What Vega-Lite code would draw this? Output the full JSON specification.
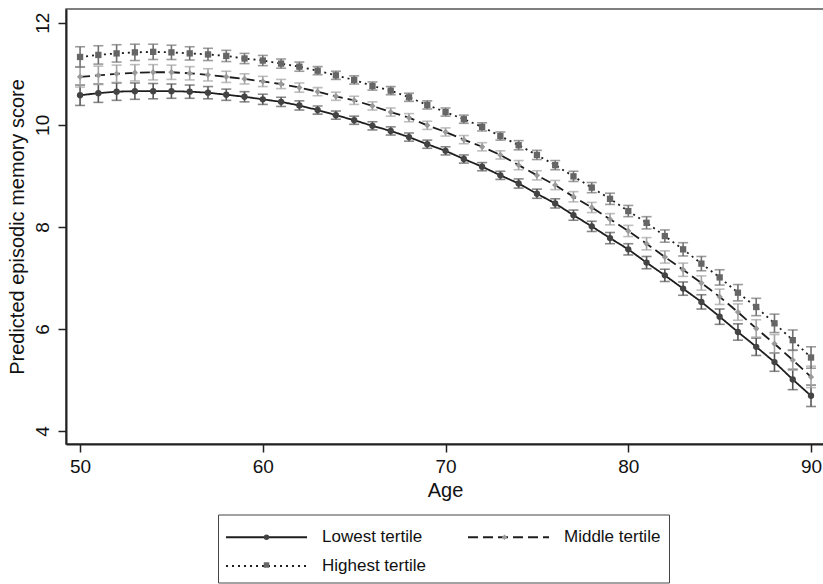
{
  "$schema": "https://vega.github.io/schema/vega-lite/v6.json",
  "autosize": {"type": "none"},
  "padding": {"left": 66, "top": 9, "right": 0, "bottom": 140},
  "width": 758,
  "height": 435,
  "background": "white",
  "config": {
    "font": "Liberation Sans",
    "view": {"stroke": "#555", "strokeWidth": 1.5},
    "axis": {"grid": false, "domainColor": "#222", "domainWidth": 2, "tickColor": "#222", "tickWidth": 1.5, "tickSize": 8, "labelFont": "Liberation Sans", "labelFontSize": 19, "labelColor": "#111", "titleFont": "Liberation Sans", "titleFontSize": 20, "titleFontWeight": "normal", "titleColor": "#111"}
  },
  "data": {"values": [
    {"t":"Lowest tertile","age":50,"est":10.58,"lo":10.38,"hi":10.78},
    {"t":"Lowest tertile","age":51,"est":10.62,"lo":10.44,"hi":10.80},
    {"t":"Lowest tertile","age":52,"est":10.65,"lo":10.48,"hi":10.82},
    {"t":"Lowest tertile","age":53,"est":10.66,"lo":10.50,"hi":10.82},
    {"t":"Lowest tertile","age":54,"est":10.66,"lo":10.51,"hi":10.81},
    {"t":"Lowest tertile","age":55,"est":10.66,"lo":10.52,"hi":10.80},
    {"t":"Lowest tertile","age":56,"est":10.65,"lo":10.52,"hi":10.78},
    {"t":"Lowest tertile","age":57,"est":10.63,"lo":10.51,"hi":10.75},
    {"t":"Lowest tertile","age":58,"est":10.59,"lo":10.48,"hi":10.70},
    {"t":"Lowest tertile","age":59,"est":10.55,"lo":10.45,"hi":10.65},
    {"t":"Lowest tertile","age":60,"est":10.50,"lo":10.40,"hi":10.60},
    {"t":"Lowest tertile","age":61,"est":10.45,"lo":10.36,"hi":10.54},
    {"t":"Lowest tertile","age":62,"est":10.38,"lo":10.29,"hi":10.47},
    {"t":"Lowest tertile","age":63,"est":10.29,"lo":10.21,"hi":10.37},
    {"t":"Lowest tertile","age":64,"est":10.19,"lo":10.11,"hi":10.27},
    {"t":"Lowest tertile","age":65,"est":10.09,"lo":10.01,"hi":10.17},
    {"t":"Lowest tertile","age":66,"est":9.98,"lo":9.90,"hi":10.06},
    {"t":"Lowest tertile","age":67,"est":9.88,"lo":9.80,"hi":9.96},
    {"t":"Lowest tertile","age":68,"est":9.76,"lo":9.68,"hi":9.84},
    {"t":"Lowest tertile","age":69,"est":9.62,"lo":9.54,"hi":9.70},
    {"t":"Lowest tertile","age":70,"est":9.49,"lo":9.41,"hi":9.57},
    {"t":"Lowest tertile","age":71,"est":9.33,"lo":9.25,"hi":9.41},
    {"t":"Lowest tertile","age":72,"est":9.18,"lo":9.10,"hi":9.26},
    {"t":"Lowest tertile","age":73,"est":9.01,"lo":8.93,"hi":9.09},
    {"t":"Lowest tertile","age":74,"est":8.85,"lo":8.76,"hi":8.94},
    {"t":"Lowest tertile","age":75,"est":8.65,"lo":8.56,"hi":8.74},
    {"t":"Lowest tertile","age":76,"est":8.46,"lo":8.37,"hi":8.55},
    {"t":"Lowest tertile","age":77,"est":8.23,"lo":8.13,"hi":8.33},
    {"t":"Lowest tertile","age":78,"est":8.01,"lo":7.91,"hi":8.11},
    {"t":"Lowest tertile","age":79,"est":7.78,"lo":7.67,"hi":7.89},
    {"t":"Lowest tertile","age":80,"est":7.56,"lo":7.45,"hi":7.67},
    {"t":"Lowest tertile","age":81,"est":7.30,"lo":7.18,"hi":7.42},
    {"t":"Lowest tertile","age":82,"est":7.05,"lo":6.93,"hi":7.17},
    {"t":"Lowest tertile","age":83,"est":6.79,"lo":6.66,"hi":6.92},
    {"t":"Lowest tertile","age":84,"est":6.53,"lo":6.39,"hi":6.67},
    {"t":"Lowest tertile","age":85,"est":6.24,"lo":6.09,"hi":6.39},
    {"t":"Lowest tertile","age":86,"est":5.94,"lo":5.78,"hi":6.10},
    {"t":"Lowest tertile","age":87,"est":5.65,"lo":5.48,"hi":5.82},
    {"t":"Lowest tertile","age":88,"est":5.35,"lo":5.17,"hi":5.53},
    {"t":"Lowest tertile","age":89,"est":5.01,"lo":4.81,"hi":5.21},
    {"t":"Lowest tertile","age":90,"est":4.69,"lo":4.48,"hi":4.90},
    {"t":"Middle tertile","age":50,"est":10.94,"lo":10.74,"hi":11.14},
    {"t":"Middle tertile","age":51,"est":10.97,"lo":10.79,"hi":11.15},
    {"t":"Middle tertile","age":52,"est":11.00,"lo":10.83,"hi":11.17},
    {"t":"Middle tertile","age":53,"est":11.02,"lo":10.86,"hi":11.18},
    {"t":"Middle tertile","age":54,"est":11.03,"lo":10.88,"hi":11.18},
    {"t":"Middle tertile","age":55,"est":11.03,"lo":10.89,"hi":11.17},
    {"t":"Middle tertile","age":56,"est":11.01,"lo":10.88,"hi":11.14},
    {"t":"Middle tertile","age":57,"est":10.98,"lo":10.86,"hi":11.10},
    {"t":"Middle tertile","age":58,"est":10.94,"lo":10.83,"hi":11.05},
    {"t":"Middle tertile","age":59,"est":10.90,"lo":10.80,"hi":11.00},
    {"t":"Middle tertile","age":60,"est":10.85,"lo":10.75,"hi":10.95},
    {"t":"Middle tertile","age":61,"est":10.80,"lo":10.71,"hi":10.89},
    {"t":"Middle tertile","age":62,"est":10.73,"lo":10.64,"hi":10.82},
    {"t":"Middle tertile","age":63,"est":10.65,"lo":10.57,"hi":10.73},
    {"t":"Middle tertile","age":64,"est":10.56,"lo":10.48,"hi":10.64},
    {"t":"Middle tertile","age":65,"est":10.48,"lo":10.40,"hi":10.56},
    {"t":"Middle tertile","age":66,"est":10.37,"lo":10.29,"hi":10.45},
    {"t":"Middle tertile","age":67,"est":10.25,"lo":10.17,"hi":10.33},
    {"t":"Middle tertile","age":68,"est":10.14,"lo":10.06,"hi":10.22},
    {"t":"Middle tertile","age":69,"est":9.99,"lo":9.91,"hi":10.07},
    {"t":"Middle tertile","age":70,"est":9.86,"lo":9.78,"hi":9.94},
    {"t":"Middle tertile","age":71,"est":9.71,"lo":9.63,"hi":9.79},
    {"t":"Middle tertile","age":72,"est":9.57,"lo":9.49,"hi":9.65},
    {"t":"Middle tertile","age":73,"est":9.41,"lo":9.33,"hi":9.49},
    {"t":"Middle tertile","age":74,"est":9.21,"lo":9.12,"hi":9.30},
    {"t":"Middle tertile","age":75,"est":9.01,"lo":8.92,"hi":9.10},
    {"t":"Middle tertile","age":76,"est":8.82,"lo":8.73,"hi":8.91},
    {"t":"Middle tertile","age":77,"est":8.59,"lo":8.49,"hi":8.69},
    {"t":"Middle tertile","age":78,"est":8.38,"lo":8.28,"hi":8.48},
    {"t":"Middle tertile","age":79,"est":8.15,"lo":8.04,"hi":8.26},
    {"t":"Middle tertile","age":80,"est":7.92,"lo":7.81,"hi":8.03},
    {"t":"Middle tertile","age":81,"est":7.67,"lo":7.55,"hi":7.79},
    {"t":"Middle tertile","age":82,"est":7.41,"lo":7.29,"hi":7.53},
    {"t":"Middle tertile","age":83,"est":7.16,"lo":7.03,"hi":7.29},
    {"t":"Middle tertile","age":84,"est":6.90,"lo":6.76,"hi":7.04},
    {"t":"Middle tertile","age":85,"est":6.63,"lo":6.48,"hi":6.78},
    {"t":"Middle tertile","age":86,"est":6.33,"lo":6.17,"hi":6.49},
    {"t":"Middle tertile","age":87,"est":6.01,"lo":5.84,"hi":6.18},
    {"t":"Middle tertile","age":88,"est":5.71,"lo":5.53,"hi":5.89},
    {"t":"Middle tertile","age":89,"est":5.39,"lo":5.19,"hi":5.59},
    {"t":"Middle tertile","age":90,"est":5.06,"lo":4.85,"hi":5.27},
    {"t":"Highest tertile","age":50,"est":11.33,"lo":11.13,"hi":11.53},
    {"t":"Highest tertile","age":51,"est":11.37,"lo":11.19,"hi":11.55},
    {"t":"Highest tertile","age":52,"est":11.40,"lo":11.23,"hi":11.57},
    {"t":"Highest tertile","age":53,"est":11.42,"lo":11.26,"hi":11.58},
    {"t":"Highest tertile","age":54,"est":11.43,"lo":11.28,"hi":11.58},
    {"t":"Highest tertile","age":55,"est":11.42,"lo":11.28,"hi":11.56},
    {"t":"Highest tertile","age":56,"est":11.40,"lo":11.27,"hi":11.53},
    {"t":"Highest tertile","age":57,"est":11.38,"lo":11.26,"hi":11.50},
    {"t":"Highest tertile","age":58,"est":11.35,"lo":11.24,"hi":11.46},
    {"t":"Highest tertile","age":59,"est":11.30,"lo":11.20,"hi":11.40},
    {"t":"Highest tertile","age":60,"est":11.26,"lo":11.16,"hi":11.36},
    {"t":"Highest tertile","age":61,"est":11.20,"lo":11.11,"hi":11.29},
    {"t":"Highest tertile","age":62,"est":11.14,"lo":11.05,"hi":11.23},
    {"t":"Highest tertile","age":63,"est":11.06,"lo":10.98,"hi":11.14},
    {"t":"Highest tertile","age":64,"est":10.97,"lo":10.89,"hi":11.05},
    {"t":"Highest tertile","age":65,"est":10.88,"lo":10.80,"hi":10.96},
    {"t":"Highest tertile","age":66,"est":10.76,"lo":10.68,"hi":10.84},
    {"t":"Highest tertile","age":67,"est":10.67,"lo":10.59,"hi":10.75},
    {"t":"Highest tertile","age":68,"est":10.54,"lo":10.46,"hi":10.62},
    {"t":"Highest tertile","age":69,"est":10.39,"lo":10.31,"hi":10.47},
    {"t":"Highest tertile","age":70,"est":10.25,"lo":10.17,"hi":10.33},
    {"t":"Highest tertile","age":71,"est":10.11,"lo":10.03,"hi":10.19},
    {"t":"Highest tertile","age":72,"est":9.96,"lo":9.88,"hi":10.04},
    {"t":"Highest tertile","age":73,"est":9.78,"lo":9.70,"hi":9.86},
    {"t":"Highest tertile","age":74,"est":9.60,"lo":9.51,"hi":9.69},
    {"t":"Highest tertile","age":75,"est":9.41,"lo":9.32,"hi":9.50},
    {"t":"Highest tertile","age":76,"est":9.21,"lo":9.12,"hi":9.30},
    {"t":"Highest tertile","age":77,"est":8.99,"lo":8.89,"hi":9.09},
    {"t":"Highest tertile","age":78,"est":8.77,"lo":8.67,"hi":8.87},
    {"t":"Highest tertile","age":79,"est":8.55,"lo":8.44,"hi":8.66},
    {"t":"Highest tertile","age":80,"est":8.31,"lo":8.20,"hi":8.42},
    {"t":"Highest tertile","age":81,"est":8.08,"lo":7.96,"hi":8.20},
    {"t":"Highest tertile","age":82,"est":7.82,"lo":7.70,"hi":7.94},
    {"t":"Highest tertile","age":83,"est":7.56,"lo":7.43,"hi":7.69},
    {"t":"Highest tertile","age":84,"est":7.28,"lo":7.14,"hi":7.42},
    {"t":"Highest tertile","age":85,"est":7.01,"lo":6.86,"hi":7.16},
    {"t":"Highest tertile","age":86,"est":6.71,"lo":6.55,"hi":6.87},
    {"t":"Highest tertile","age":87,"est":6.43,"lo":6.26,"hi":6.60},
    {"t":"Highest tertile","age":88,"est":6.11,"lo":5.93,"hi":6.29},
    {"t":"Highest tertile","age":89,"est":5.78,"lo":5.58,"hi":5.98},
    {"t":"Highest tertile","age":90,"est":5.44,"lo":5.23,"hi":5.65}
  ]},
  "layer": [
    {
      "transform": [{"filter": "datum.t === 'Lowest tertile'"}],
      "mark": {"type": "errorbar", "ticks": {"size": 10}, "thickness": 1.6, "color": "#555555"},
      "encoding": {
        "x": {"field": "age", "type": "quantitative", "title": "Age", "scale": {"domain": [49.23, 90.71], "nice": false, "zero": false},
              "axis": {"values": [50, 60, 70, 80, 90], "labelPadding": 5, "titlePadding": 4}},
        "y": {"field": "lo", "type": "quantitative", "title": "Predicted episodic memory score", "scale": {"domain": [3.745, 12.27], "nice": false, "zero": false},
              "axis": {"values": [4, 6, 8, 10, 12], "labelAngle": -90, "labelAlign": "center", "labelBaseline": "bottom", "labelPadding": 6, "titlePadding": 6}},
        "y2": {"field": "hi"}
      }
    },
    {
      "transform": [{"filter": "datum.t === 'Middle tertile'"}],
      "mark": {"type": "errorbar", "ticks": {"size": 10}, "thickness": 1.6, "color": "#a3a3a3"},
      "encoding": {
        "x": {"field": "age", "type": "quantitative", "title": "Age"},
        "y": {"field": "lo", "type": "quantitative", "title": "Predicted episodic memory score"},
        "y2": {"field": "hi"}
      }
    },
    {
      "transform": [{"filter": "datum.t === 'Highest tertile'"}],
      "mark": {"type": "errorbar", "ticks": {"size": 10}, "thickness": 1.6, "color": "#727272"},
      "encoding": {
        "x": {"field": "age", "type": "quantitative", "title": "Age"},
        "y": {"field": "lo", "type": "quantitative", "title": "Predicted episodic memory score"},
        "y2": {"field": "hi"}
      }
    },
    {
      "mark": {"type": "line", "color": "#1e1e1e", "strokeWidth": 1.8},
      "encoding": {
        "x": {"field": "age", "type": "quantitative", "title": "Age"},
        "y": {"field": "est", "type": "quantitative", "title": "Predicted episodic memory score"},
        "strokeDash": {"field": "t", "type": "nominal", "sort": {"field": "est", "op": "min"}, "scale": {"range": [[1, 0], [10, 5], [2, 4]]},
          "legend": {"title": null, "orient": "none", "legendX": 152, "legendY": 505.5, "columns": 2, "direction": "horizontal", "symbolType": "M-3,0H3", "symbolSize": 729, "symbolOffset": 26, "symbolStrokeColor": "#1e1e1e", "symbolStrokeWidth": 1.8, "labelFont": "Liberation Sans", "labelFontSize": 17, "labelColor": "#111", "labelOffset": 41, "columnPadding": 38, "rowPadding": 6, "padding": 8, "strokeColor": "#444", "fillColor": "transparent"}}
      }
    },
    {
      "mark": {"type": "point", "filled": true, "size": 40, "opacity": 1},
      "encoding": {
        "x": {"field": "age", "type": "quantitative", "title": "Age"},
        "y": {"field": "est", "type": "quantitative", "title": "Predicted episodic memory score"},
        "shape": {"field": "t", "type": "nominal", "scale": {"domain": ["Lowest tertile", "Middle tertile", "Highest tertile"], "range": ["circle", "diamond", "square"]},
          "legend": {"title": null, "orient": "none", "legendX": 152, "legendY": 511.5, "columns": 2, "direction": "horizontal", "symbolSize": 30, "symbolOffset": 32, "symbolStrokeWidth": 0, "labelFontSize": 17, "labelExpr": "''", "labelOffset": 0, "columnPadding": 189, "rowPadding": 10, "padding": 8}},
        "color": {"field": "t", "type": "nominal", "scale": {"domain": ["Lowest tertile", "Middle tertile", "Highest tertile"], "range": ["#444444", "#9a9a9a", "#666666"]},
          "legend": {"title": null, "orient": "none", "legendX": 152, "legendY": 511.5, "columns": 2, "direction": "horizontal", "symbolSize": 30, "symbolOffset": 32, "symbolStrokeWidth": 0, "labelFontSize": 17, "labelExpr": "''", "labelOffset": 0, "columnPadding": 189, "rowPadding": 10, "padding": 8}}
      }
    }
  ]
}
